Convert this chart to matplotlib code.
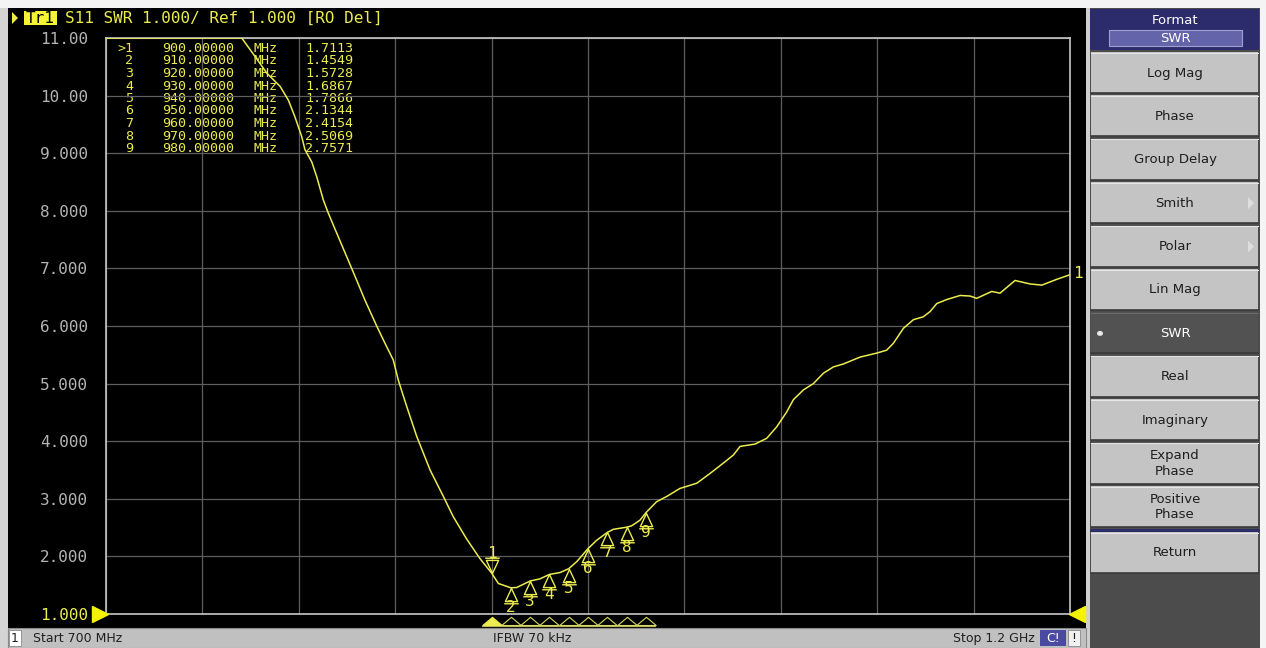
import numpy as np
import matplotlib.pyplot as plt
from matplotlib.path import Path
from matplotlib.patches import Rectangle, Polygon, Ellipse
from matplotlib.transforms import blended_transform_factory

# ---- trace (MHz, SWR); above 11 it sits on the top line ----
freq_mhz = [700, 770.4, 777.3, 783.4, 790.3, 794.6, 798.0, 801.5, 803.2, 806.7,
            809.3, 812.7, 815.3, 819.7, 824.9, 829.2, 834.3, 840.4, 844.7, 849.0,
            851.6, 856.0, 861.2, 868.1, 875.0, 880.1, 887.1, 894.0, 900.0, 903.5,
            910.0, 913.0, 920.0, 925.1, 930.0, 935.5, 940.0, 944.2, 950.0, 954.5,
            960.0, 963.1, 970.0, 972.6, 977.0, 980.0, 985.6, 990.8, 997.7, 1006.4,
            1013.3, 1020.2, 1025.4, 1028.9, 1036.6, 1042.7, 1047.9, 1053.1, 1056.5, 1061.7,
            1066.9, 1072.1, 1077.3, 1082.4, 1091.1, 1099.8, 1104.9, 1108.4, 1113.6, 1118.8,
            1123.9, 1127.4, 1130.9, 1136.1, 1143.0, 1148.2, 1151.6, 1159.4, 1163.7, 1171.5,
            1179.3, 1185.4, 1193.1, 1200.0]
swr = [11.0, 11.0, 10.68, 10.39, 10.16, 9.92, 9.63, 9.29, 9.06, 8.85,
       8.59, 8.19, 7.96, 7.61, 7.20, 6.86, 6.45, 6.00, 5.70, 5.41,
       5.06, 4.60, 4.08, 3.50, 3.04, 2.69, 2.30, 1.96, 1.7113, 1.53,
       1.4549, 1.46, 1.5728, 1.61, 1.6867, 1.72, 1.7866, 1.91, 2.1344, 2.28,
       2.4154, 2.47, 2.5069, 2.53, 2.63, 2.7571, 2.95, 3.04, 3.18, 3.27,
       3.44, 3.62, 3.76, 3.91, 3.95, 4.05, 4.25, 4.51, 4.72, 4.89,
       5.00, 5.18, 5.29, 5.34, 5.46, 5.53, 5.58, 5.70, 5.96, 6.11,
       6.16, 6.25, 6.39, 6.46, 6.53, 6.52, 6.48, 6.60, 6.57, 6.79,
       6.73, 6.71, 6.81, 6.89]

marker_ids = ['1', '2', '3', '4', '5', '6', '7', '8', '9']
marker_freq = [900, 910, 920, 930, 940, 950, 960, 970, 980]
marker_swr = [1.7113, 1.4549, 1.5728, 1.6867, 1.7866, 2.1344, 2.4154, 2.5069, 2.7571]
marker_freq_txt = ['900.00000', '910.00000', '920.00000', '930.00000', '940.00000',
                   '950.00000', '960.00000', '970.00000', '980.00000']
marker_swr_txt = ['1.7113', '1.4549', '1.5728', '1.6867', '1.7866',
                  '2.1344', '2.4154', '2.5069', '2.7571']

x_grid = [700, 750, 800, 850, 900, 950, 1000, 1050, 1100, 1150, 1200]
y_ticks = [11, 10, 9, 8, 7, 6, 5, 4, 3, 2, 1]
y_labels = ['11.00', '10.00', '9.000', '8.000', '7.000', '6.000',
            '5.000', '4.000', '3.000', '2.000', '1.000']

softkeys = ['Log Mag', 'Phase', 'Group Delay', 'Smith', 'Polar', 'Lin Mag', 'SWR',
            'Real', 'Imaginary', 'Expand\nPhase', 'Positive\nPhase']

# ---- colours / fonts ----
YEL = '#ecec4e'
GRID = '#5e5e5e'
FRAME = '#c8c8c8'
BTN = '#c4c4c4'
MONO = 'DejaVu Sans Mono'
SANS = 'DejaVu Sans'

fig = plt.figure(figsize=(12.66, 6.48), dpi=100, facecolor='#f4f4f4')

# background canvas in screen pixels
bg = fig.add_axes([0, 0, 1, 1], zorder=0)
bg.set_xlim(0, 1266)
bg.set_ylim(648, 0)
bg.axis('off')

bg.add_patch(Rectangle((0, 8), 8, 640, fc='#d4d4d4', ec='none'))
bg.add_patch(Rectangle((8, 8), 1078, 620, fc='black', ec='none'))
bg.add_patch(Rectangle((1086, 8), 4, 640, fc='#cfcfcf', ec='none'))

# status bar
bg.add_patch(Rectangle((8, 628), 1078, 20, fc='#c0c0c0', ec='#8a8a8a', lw=0.8))
bg.add_patch(Rectangle((9, 630), 12, 16, fc='white', ec='#8a8a8a', lw=0.6))
bg.text(15, 638.5, '1', ha='center', va='center', fontsize=9, family=SANS, color='#202020')
bg.text(33, 638.5, 'Start 700 MHz', ha='left', va='center', fontsize=9, family=SANS, color='#202020')
bg.text(493, 638.5, 'IFBW 70 kHz', ha='left', va='center', fontsize=9, family=SANS, color='#202020')
bg.text(1035, 638.5, 'Stop 1.2 GHz', ha='right', va='center', fontsize=9, family=SANS, color='#202020')
bg.add_patch(Rectangle((1040, 630), 26, 16, fc='#4a4aa2', ec='none'))
bg.text(1053, 638.5, 'C!', ha='center', va='center', fontsize=9, family=SANS, color='white')
bg.add_patch(Rectangle((1068, 630), 12, 16, fc='#f0f0f0', ec='#8a8a8a', lw=0.6))
bg.text(1074, 638.5, '!', ha='center', va='center', fontsize=9, family=SANS, color='#202020')

# softkey panel
bg.add_patch(Rectangle((1090, 8), 170, 640, fc='#4c4c4c', ec='none'))
bg.add_patch(Rectangle((1090, 9), 169, 41, fc='#2c2c6c', ec='none'))
bg.text(1175, 20, 'Format', ha='center', va='center', fontsize=9.5, family=SANS, color='white')
bg.add_patch(Rectangle((1109, 30), 133, 16, fc='#6464aa', ec='#a0a0d0', lw=0.8))
bg.text(1175, 38.5, 'SWR', ha='center', va='center', fontsize=9.5, family=SANS, color='white')

for i, key in enumerate(softkeys):
    top = 52 + i * 43.4
    active = key == 'SWR'
    bg.add_patch(Rectangle((1091, top), 167, 41, fc='#525252' if active else BTN,
                           ec='none'))
    bg.plot([1091, 1258], [top + 0.5, top + 0.5], color='#e6e6e6' if not active else '#6a6a6a', lw=0.8)
    bg.plot([1091, 1258], [top + 41, top + 41], color='#3a3a3a', lw=1.2)
    bg.text(1175, top + 21, key, ha='center', va='center', fontsize=9.5, family=SANS,
            color='white' if active else '#1e1e1e', linespacing=1.25)
    if active:
        bg.add_patch(Ellipse((1100, top + 21), 6, 5, fc='#e8e8e8', ec='none'))
    if key in ('Smith', 'Polar'):
        bg.add_patch(Polygon([[1248, top + 15], [1248, top + 27], [1254, top + 21]],
                             closed=True, fc='#dedede', ec='none'))
bg.plot([1091, 1258], [530, 530], color='#2c2c6c', lw=2)
bg.add_patch(Rectangle((1091, 532), 167, 41, fc=BTN, ec='none'))
bg.plot([1091, 1258], [532.5, 532.5], color='#e6e6e6', lw=0.8)
bg.plot([1091, 1258], [573, 573], color='#3a3a3a', lw=1.2)
bg.text(1175, 553, 'Return', ha='center', va='center', fontsize=9.5, family=SANS, color='#1e1e1e')

# title line
bg.add_patch(Polygon([[12, 12], [12, 24], [18, 18]], closed=True, fc=YEL, ec='none'))
bg.add_patch(Rectangle((24, 11), 33, 14, fc='#f4f434', ec='none'))
bg.text(40.5, 18.5, 'Tr1', ha='center', va='center', fontsize=11.5, family=MONO, color='black')
bg.text(65, 18.5, 'S11 SWR 1.000/ Ref 1.000 [RO Del]', ha='left', va='center',
        fontsize=11.5, family=MONO, color=YEL)

# ---- the measurement graticule ----
ax = fig.add_axes([106 / 1266, 34 / 648, 964 / 1266, 576 / 648], zorder=1)
ax.patch.set_visible(False)
ax.set_xlim(700, 1200)
ax.set_ylim(1, 11)
ax.set_xticks(x_grid)
ax.set_xticklabels([])
ax.set_yticks(y_ticks)
ax.set_yticklabels(y_labels, family=MONO, fontsize=11.5, color='#b4b4b4')
ax.get_yticklabels()[-1].set_color(YEL)
ax.tick_params(length=0, pad=13)
ax.grid(True, color=GRID, lw=0.9)
for s in ax.spines.values():
    s.set_color(FRAME)
    s.set_linewidth(1.2)

ax.plot(freq_mhz, swr, color=YEL, lw=1.1, zorder=3)

# marker readout table
for i in range(len(marker_ids)):
    y = 48.5 + i * 12.5
    tag = ('>' if i == 0 else '') + marker_ids[i]
    kw = dict(va='center', fontsize=9.6, family=MONO, color=YEL, zorder=5)
    bg.text(133, y, tag, ha='right', **kw)
    bg.text(198, y, marker_freq_txt[i], ha='center', **kw)
    bg.text(265, y, 'MHz', ha='center', **kw)
    bg.text(329, y, marker_swr_txt[i], ha='center', **kw)

# marker symbols: apex sits on the trace
down_tri = Path([(0, 0), (-0.42, 0.9), (0.42, 0.9), (0, 0), (-0.5, 1.05), (0.5, 1.05)],
                [Path.MOVETO, Path.LINETO, Path.LINETO, Path.CLOSEPOLY, Path.MOVETO, Path.LINETO])
up_tri = Path([(0, 0), (-0.42, -0.9), (0.42, -0.9), (0, 0), (-0.5, -1.05), (0.5, -1.05)],
              [Path.MOVETO, Path.LINETO, Path.LINETO, Path.CLOSEPOLY, Path.MOVETO, Path.LINETO])

ax.plot(marker_freq[:1], marker_swr[:1], ls='none', marker=down_tri, ms=22,
        mfc='none', mec=YEL, mew=1.0, zorder=4)
ax.plot(marker_freq[1:], marker_swr[1:], ls='none', marker=up_tri, ms=22,
        mfc='none', mec=YEL, mew=1.0, zorder=4)
for i in range(len(marker_ids)):
    dy = 20 if i == 0 else -20
    ax.annotate(marker_ids[i], (marker_freq[i], marker_swr[i]), xytext=(0, dy),
                textcoords='offset pixels', ha='center', va='center',
                fontsize=11.5, family=MONO, color=YEL, zorder=5)

# trace end label
ax.annotate('1', (freq_mhz[-1], swr[-1]), xytext=(3, 1), textcoords='offset pixels',
            ha='left', va='center', fontsize=11.5, family=MONO, color=YEL,
            annotation_clip=False)

# marker position strip under the graticule
strip = blended_transform_factory(ax.transData, bg.transData)
strip_tri = Path([(0, 0.42), (-0.5, 0), (0.5, 0), (0, 0.42)],
                 [Path.MOVETO, Path.LINETO, Path.LINETO, Path.CLOSEPOLY])
ax.plot(marker_freq[:1], [625], transform=strip, ls='none', marker=strip_tri, ms=14,
        mfc=YEL, mec=YEL, mew=0.8, clip_on=False, zorder=4)
ax.plot(marker_freq[1:], [625] * 8, transform=strip, ls='none', marker=strip_tri, ms=14,
        mfc='none', mec='#d8d860', mew=0.8, clip_on=False, zorder=4)
ax.plot([marker_freq[0] - 5, marker_freq[-1] + 5], [625.5, 625.5], transform=strip,
        color='#b8b860', lw=0.8, clip_on=False)

# reference-level pointers at 1.000
ref = blended_transform_factory(bg.transData, ax.transData)
ax.plot([100], [y_ticks[-1]], transform=ref, ls='none', marker='>', ms=11,
        color='#f4f400', clip_on=False, zorder=4)
ax.plot([1077], [y_ticks[-1]], transform=ref, ls='none', marker='<', ms=11,
        color='#f4f400', clip_on=False, zorder=4)

fig.savefig('out.png', dpi=100, facecolor=fig.get_facecolor())
